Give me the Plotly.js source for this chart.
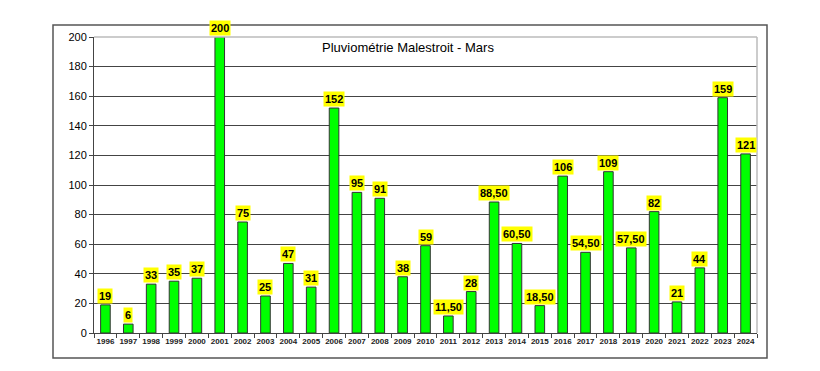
<!DOCTYPE html>
<html><head><meta charset="utf-8">
<script src="https://cdn.plot.ly/plotly-3.0.1.min.js"></script>
<style>html,body{margin:0;padding:0;background:#fff;}#chart{width:820px;height:371px;}</style>
</head><body><div id="chart"></div>
<script>
const years = ["1996","1997","1998","1999","2000","2001","2002","2003","2004","2005","2006","2007","2008","2009","2010","2011","2012","2013","2014","2015","2016","2017","2018","2019","2020","2021","2022","2023","2024"];
const rainfall = [19,6,33,35,37,200,75,25,47,31,152,95,91,38,59,11.5,28,88.5,60.5,18.5,106,54.5,109,57.5,82,21,44,159,121];
const yTicks = [0,20,40,60,80,100,120,140,160,180,200];
const chartTitle = "Pluviométrie Malestroit - Mars";

function fmt(v){ return Number.isInteger(v) ? String(v) : v.toFixed(2).replace('.', ','); }
const idx = years.map((y,i)=>i);
const bounds = years.map((y,i)=>i-0.5).concat([years.length-0.5]);

const annotations = years.map((y,i)=>({
  x: i, y: rainfall[i], xref:'x', yref:'y', text: fmt(rainfall[i]),
  showarrow:false, yanchor:'bottom', yshift:1,
  bgcolor:'#ffff00', borderpad:1,
  font:{family:'Arial, Liberation Sans, sans-serif', size:11, color:'#000', weight:'bold'}
}));
annotations.push({
  text: chartTitle, xref:'paper', yref:'paper', x:(408-94)/663, y:(333-47)/296,
  xanchor:'center', yanchor:'middle', showarrow:false,
  font:{family:'Arial, Liberation Sans, sans-serif', size:13, color:'#000'}
});

const trace = {
  type:'bar', x: idx, y: rainfall,
  marker:{color:'#00ff00', line:{color:'#333', width:1}},
  hoverinfo:'none'
};

const layout = {
  width:820, height:371,
  margin:{l:94, r:63, t:37, b:38},
  paper_bgcolor:'#fff', plot_bgcolor:'#fff',
  bargap:0.58,
  showlegend:false,
  xaxis:{range:[-0.5, years.length-0.5], tickvals: idx, ticktext: years, showgrid:false,
    showline:true, linecolor:'#444', linewidth:1, ticks:'', zeroline:false,
    minor:{tickvals: bounds, ticks:'outside', ticklen:4, tickcolor:'#444', showgrid:false},
    tickfont:{family:'Arial, Liberation Sans, sans-serif', size:8, color:'#222', weight:'bold'}},
  yaxis:{range:[0,200], tickvals:yTicks, showgrid:true, gridcolor:'#444', gridwidth:1,
    showline:true, linecolor:'#444', linewidth:1, ticks:'outside', ticklen:4, tickcolor:'#444',
    zeroline:false,
    tickfont:{family:'Arial, Liberation Sans, sans-serif', size:11, color:'#000'}},
  annotations: annotations,
  shapes:[
    {type:'rect', xref:'paper', yref:'paper', x0:(53-94)/663, x1:(767-94)/663, y0:(333-358)/296, y1:(333-25)/296,
     line:{color:'#555', width:1.5}, fillcolor:'rgba(0,0,0,0)', layer:'below'},
    {type:'line', xref:'paper', yref:'paper', x0:0, x1:1, y0:1, y1:1, line:{color:'#bbb', width:1.5}},
    {type:'line', xref:'paper', yref:'paper', x0:1, x1:1, y0:0, y1:1, line:{color:'#bbb', width:1.5}}
  ]
};

Plotly.newPlot('chart', [trace], layout, {staticPlot:true, displayModeBar:false});
</script></body></html>
